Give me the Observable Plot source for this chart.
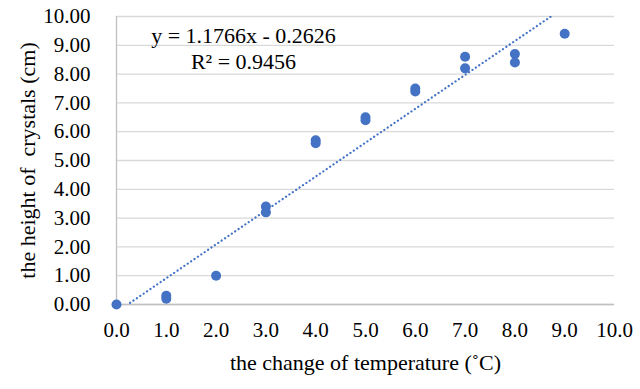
<!DOCTYPE html>
<html>
<head>
<meta charset="utf-8">
<script src="https://cdn.jsdelivr.net/npm/d3@7"></script>
<script src="https://cdn.jsdelivr.net/npm/@observablehq/plot@0.6"></script>
<style>
  html, body { margin: 0; padding: 0; background: #fff; }
</style>
</head>
<body>
<div id="chart"></div>
<script>
// Data
const tempChange = [0, 1, 1, 2, 3, 3, 4, 4, 5, 5, 6, 6, 7, 7, 8, 8, 9];
const crystalHeight = [0.0, 0.3, 0.2, 1.0, 3.4, 3.2, 5.7, 5.6, 6.5, 6.4, 7.5, 7.4, 8.6, 8.2, 8.7, 8.4, 9.4];
const trendSlope = 1.1766;
const trendIntercept = -0.2626;
const trendRangeX = [0, 9];
const xTicks = [0, 1, 2, 3, 4, 5, 6, 7, 8, 9, 10];
const yTicks = [0, 1, 2, 3, 4, 5, 6, 7, 8, 9, 10];
const equationLines = ["y = 1.1766x - 0.2626", "R² = 0.9456"];
const xTitle = "the change of temperature (˚C)";
const yTitle = "the height of  crystals (cm)";

const points = tempChange.map((x, i) => ({x, y: crystalHeight[i]}));
const trend = trendRangeX.map(x => ({x, y: trendSlope * x + trendIntercept}));

const blue = "#4472c4";
const serif = "Liberation Serif";
const chart = Plot.plot({
  width: 640,
  height: 389,
  marginLeft: 116,
  marginRight: 26,
  marginTop: 16,
  marginBottom: 85,
  style: {fontFamily: serif, fontSize: "21px", color: "#000", background: "#fff"},
  x: {domain: [0, 10], ticks: xTicks},
  y: {domain: [0, 10], ticks: yTicks},
  marks: [
    Plot.gridY(yTicks, {stroke: "#d9d9d9", strokeOpacity: 1, strokeWidth: 1.3}),
    Plot.ruleX([0], {stroke: "#bfbfbf", strokeWidth: 1.3}),
    Plot.ruleY([0], {stroke: "#bfbfbf", strokeWidth: 1.3}),
    Plot.axisX(xTicks, {tickSize: 0, tickPadding: 18, tickFormat: d3.format(".1f"), label: null, fill: "#000", fontFamily: serif, fontSize: 21}),
    Plot.axisY(yTicks, {tickSize: 0, tickPadding: 26, tickFormat: d3.format(".2f"), label: null, fill: "#000", fontFamily: serif, fontSize: 21}),
    Plot.line(trend, {x: "x", y: "y", stroke: blue, strokeWidth: 2.2, strokeDasharray: "0.1 4", strokeLinecap: "round", clip: true}),
    Plot.dot(points, {x: "x", y: "y", r: 5, fill: blue, stroke: "none"}),
    Plot.text([equationLines[0]], {frameAnchor: "top-left", dx: 127, dy: 19, text: d => d, textAnchor: "middle", lineAnchor: "middle", fontSize: 22, fontFamily: serif, fill: "#000"}),
    Plot.text([equationLines[1]], {frameAnchor: "top-left", dx: 127, dy: 45, text: d => d, textAnchor: "middle", lineAnchor: "middle", fontSize: 22, fontFamily: serif, fill: "#000"}),
    Plot.text([xTitle], {frameAnchor: "bottom", dy: 58, text: d => d, lineAnchor: "middle", fontSize: 22, fontFamily: serif, fill: "#000"}),
    Plot.text([yTitle], {frameAnchor: "left", dx: -89, rotate: -90, text: d => d, lineAnchor: "middle", textAnchor: "middle", fontSize: 22, fontFamily: serif, fill: "#000"})
  ]
});
document.getElementById("chart").appendChild(chart);
</script>
</body>
</html>
